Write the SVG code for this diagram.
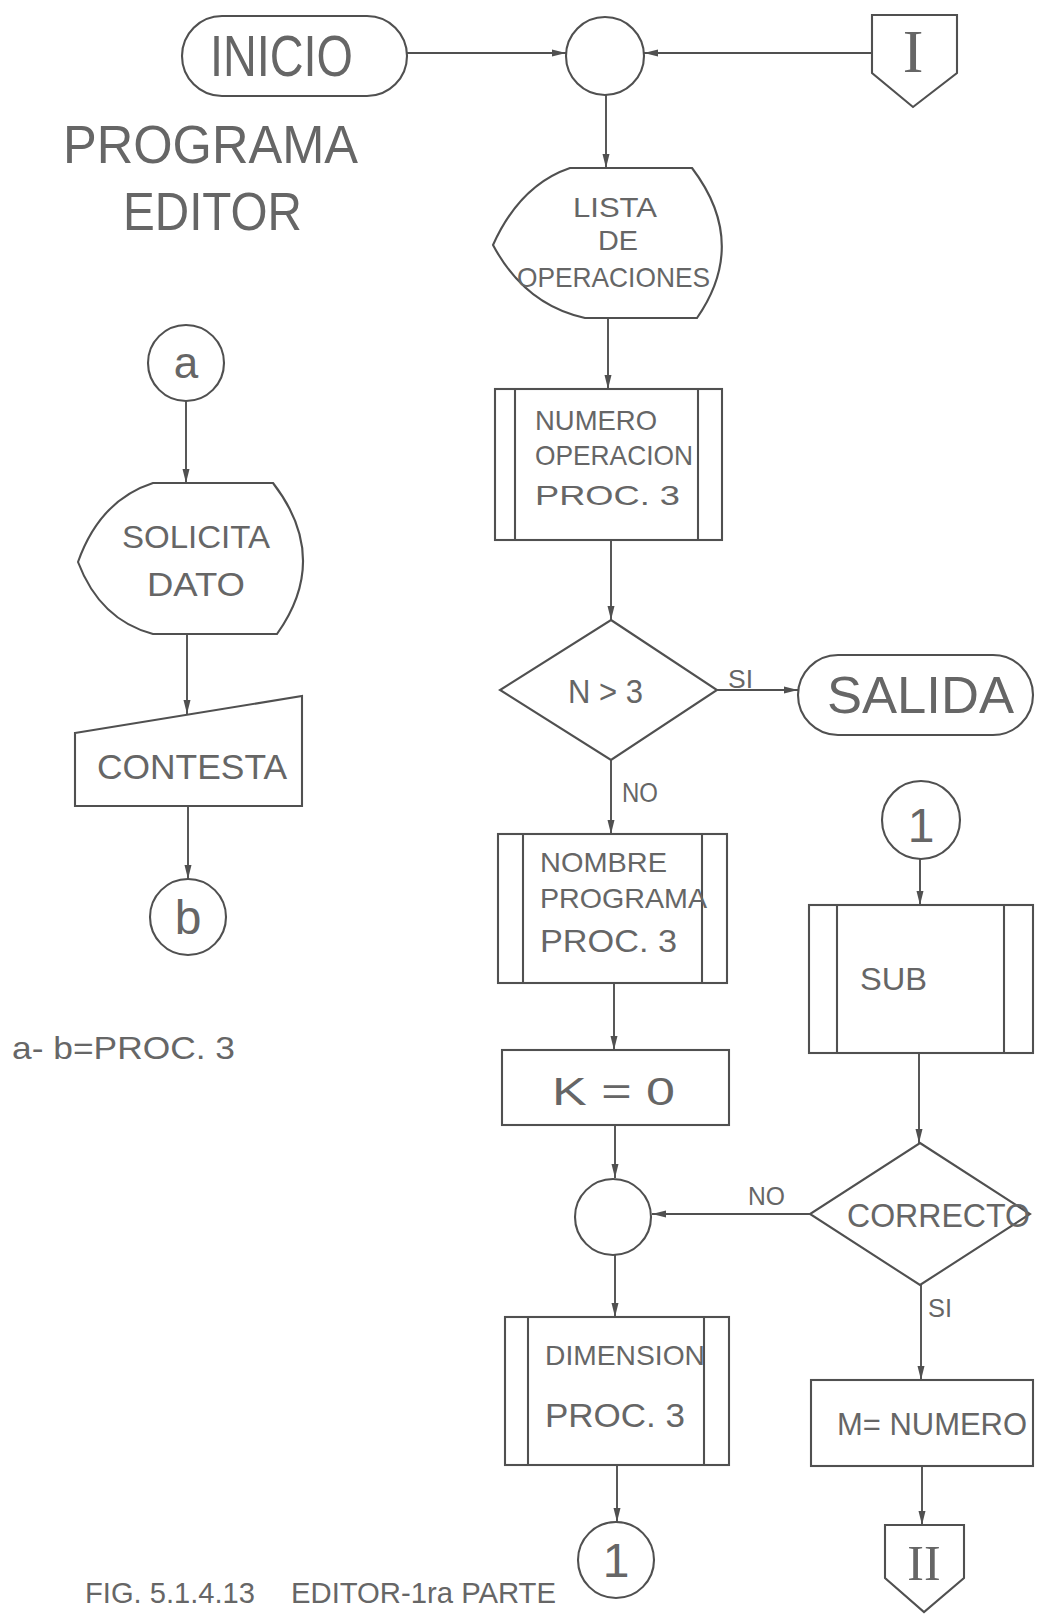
<svg xmlns="http://www.w3.org/2000/svg" width="1037" height="1614" viewBox="0 0 1037 1614">
<style>
.s{fill:#fff;stroke:#505050;stroke-width:2.1}
.l{fill:none;stroke:#505050;stroke-width:2.1}
.c{fill:none;stroke:#505050;stroke-width:1.9}
text{font-family:"Liberation Sans","DejaVu Sans",sans-serif;fill:#666}
.sf{font-family:"Liberation Serif","DejaVu Serif",serif}
.m{text-anchor:middle}
</style>
<defs>
<marker id="ah" markerUnits="userSpaceOnUse" markerWidth="14" markerHeight="8" refX="14" refY="4" orient="auto">
<path d="M0,0.5 L14,4 L0,7.5 z" fill="#505050"/>
</marker>
</defs>
<rect width="1037" height="1614" fill="#fff"/>

<g id="connectors">
<line class="c" x1="407" y1="53" x2="566" y2="53" marker-end="url(#ah)"/>
<line class="c" x1="872" y1="53" x2="644" y2="53" marker-end="url(#ah)"/>
<line class="c" x1="606" y1="95" x2="606" y2="168" marker-end="url(#ah)"/>
<line class="c" x1="608" y1="318" x2="608" y2="389" marker-end="url(#ah)"/>
<line class="c" x1="611" y1="540" x2="611" y2="620" marker-end="url(#ah)"/>
<line class="c" x1="717" y1="690" x2="798" y2="690" marker-end="url(#ah)"/>
<line class="c" x1="611" y1="760" x2="611" y2="834" marker-end="url(#ah)"/>
<line class="c" x1="614" y1="983" x2="614" y2="1050" marker-end="url(#ah)"/>
<line class="c" x1="615" y1="1125" x2="615" y2="1178" marker-end="url(#ah)"/>
<line class="c" x1="810" y1="1214" x2="652" y2="1214" marker-end="url(#ah)"/>
<line class="c" x1="615" y1="1255" x2="615" y2="1317" marker-end="url(#ah)"/>
<line class="c" x1="617" y1="1465" x2="617" y2="1522" marker-end="url(#ah)"/>
<line class="c" x1="920" y1="859" x2="920" y2="905" marker-end="url(#ah)"/>
<line class="c" x1="919" y1="1053" x2="919" y2="1143" marker-end="url(#ah)"/>
<line class="c" x1="921" y1="1285" x2="921" y2="1380" marker-end="url(#ah)"/>
<line class="c" x1="922" y1="1466" x2="922" y2="1525" marker-end="url(#ah)"/>
<line class="c" x1="186" y1="401" x2="186" y2="483" marker-end="url(#ah)"/>
<line class="c" x1="187" y1="634" x2="187" y2="714" marker-end="url(#ah)"/>
<line class="c" x1="188" y1="806" x2="188" y2="879" marker-end="url(#ah)"/>
<text x="728" y="688" font-size="25" textLength="25" lengthAdjust="spacingAndGlyphs">SI</text>
<text x="622" y="802" font-size="27" textLength="36" lengthAdjust="spacingAndGlyphs">NO</text>
<text x="748" y="1205" font-size="25" textLength="37" lengthAdjust="spacingAndGlyphs">NO</text>
<text x="928" y="1317" font-size="26" textLength="24" lengthAdjust="spacingAndGlyphs">SI</text>
</g>

<g id="title">
<text x="63" y="163" font-size="53" textLength="295" lengthAdjust="spacingAndGlyphs">PROGRAMA</text>
<text x="123" y="230" font-size="53" textLength="179" lengthAdjust="spacingAndGlyphs">EDITOR</text>
</g>

<g id="inicio">
<rect class="s" x="182" y="16" width="225" height="80" rx="40"/>
<text x="210" y="76" font-size="57" textLength="143" lengthAdjust="spacingAndGlyphs">INICIO</text>
</g>

<g id="junction-top">
<circle class="s" cx="605" cy="56" r="39"/>
</g>

<g id="offpage-I">
<path class="s" d="M872,15 H957 V73 L913,107 L872,73 Z"/>
<text class="sf m" x="913" y="72" font-size="62">I</text>
</g>

<g id="lista">
<path class="s" d="M570,168 H692 Q749,243 697,318 H585 Q525,305 493,245 Q520,185 570,168 Z"/>
<text x="573" y="217" font-size="28" textLength="84" lengthAdjust="spacingAndGlyphs">LISTA</text>
<text x="598" y="250" font-size="28" textLength="40" lengthAdjust="spacingAndGlyphs">DE</text>
<text x="517" y="287" font-size="28" textLength="193" lengthAdjust="spacingAndGlyphs">OPERACIONES</text>
</g>

<g id="numero-operacion">
<rect class="s" x="495" y="389" width="227" height="151"/>
<line class="l" x1="515" y1="389" x2="515" y2="540"/>
<line class="l" x1="698" y1="389" x2="698" y2="540"/>
<text x="535" y="430" font-size="28" textLength="122" lengthAdjust="spacingAndGlyphs">NUMERO</text>
<text x="535" y="465" font-size="28" textLength="158" lengthAdjust="spacingAndGlyphs">OPERACION</text>
<text x="535" y="505" font-size="28" textLength="145" lengthAdjust="spacingAndGlyphs">PROC.  3</text>
</g>

<g id="decision-n3">
<path class="s" d="M611,620 L717,690 L611,760 L500,690 Z"/>
<text x="568" y="703" font-size="34" textLength="75" lengthAdjust="spacingAndGlyphs">N &gt; 3</text>
</g>

<g id="salida">
<rect class="s" x="798" y="655" width="235" height="80" rx="40"/>
<text x="827" y="713" font-size="52" textLength="187" lengthAdjust="spacingAndGlyphs">SALIDA</text>
</g>

<g id="nombre-programa">
<rect class="s" x="498" y="834" width="229" height="149"/>
<line class="l" x1="523" y1="834" x2="523" y2="983"/>
<line class="l" x1="702" y1="834" x2="702" y2="983"/>
<text x="540" y="872" font-size="28" textLength="127" lengthAdjust="spacingAndGlyphs">NOMBRE</text>
<text x="540" y="908" font-size="28" textLength="167" lengthAdjust="spacingAndGlyphs">PROGRAMA</text>
<text x="540" y="952" font-size="32" textLength="137" lengthAdjust="spacingAndGlyphs">PROC.  3</text>
</g>

<g id="k0">
<rect class="s" x="502" y="1050" width="227" height="75"/>
<text x="552" y="1105" font-size="38" textLength="123" lengthAdjust="spacingAndGlyphs">K  =  0</text>
</g>

<g id="junction-mid">
<circle class="s" cx="613" cy="1217" r="38"/>
</g>

<g id="dimension">
<rect class="s" x="505" y="1317" width="224" height="148"/>
<line class="l" x1="528" y1="1317" x2="528" y2="1465"/>
<line class="l" x1="704" y1="1317" x2="704" y2="1465"/>
<text x="545" y="1365" font-size="28" textLength="160" lengthAdjust="spacingAndGlyphs">DIMENSION</text>
<text x="545" y="1427" font-size="33" textLength="140" lengthAdjust="spacingAndGlyphs">PROC.  3</text>
</g>

<g id="connector-1-out">
<circle class="s" cx="616" cy="1560" r="38"/>
<text class="m" x="616" y="1577" font-size="48">1</text>
</g>

<g id="connector-1-in">
<circle class="s" cx="921" cy="820" r="39"/>
<text class="m" x="921" y="842" font-size="48">1</text>
</g>

<g id="sub">
<rect class="s" x="809" y="905" width="224" height="148"/>
<line class="l" x1="837" y1="905" x2="837" y2="1053"/>
<line class="l" x1="1004" y1="905" x2="1004" y2="1053"/>
<text x="860" y="990" font-size="32" textLength="67" lengthAdjust="spacingAndGlyphs">SUB</text>
</g>

<g id="correcto">
<path class="s" d="M920,1143 L1030,1214 L920,1285 L810,1214 Z"/>
<text x="847" y="1227" font-size="33" textLength="183" lengthAdjust="spacingAndGlyphs">CORRECTO</text>
</g>

<g id="m-numero">
<rect class="s" x="811" y="1380" width="222" height="86"/>
<text x="837" y="1435" font-size="32" textLength="190" lengthAdjust="spacingAndGlyphs">M= NUMERO</text>
</g>

<g id="offpage-II">
<path class="s" d="M885,1525 H964 V1578 L924,1612 L885,1578 Z"/>
<text class="sf m" x="924" y="1580" font-size="50">II</text>
</g>

<g id="connector-a">
<circle class="s" cx="186" cy="363" r="38"/>
<text class="m" x="186" y="378" font-size="44">a</text>
</g>

<g id="solicita">
<path class="s" d="M153,483 H273 Q331,558 277,634 H153 Q100,620 78,562 Q100,500 153,483 Z"/>
<text x="122" y="548" font-size="32" textLength="148" lengthAdjust="spacingAndGlyphs">SOLICITA</text>
<text x="147" y="596" font-size="33" textLength="98" lengthAdjust="spacingAndGlyphs">DATO</text>
</g>

<g id="contesta">
<path class="s" d="M75,733 L302,696 L302,806 L75,806 Z"/>
<text x="97" y="779" font-size="35" textLength="190" lengthAdjust="spacingAndGlyphs">CONTESTA</text>
</g>

<g id="connector-b">
<circle class="s" cx="188" cy="917" r="38"/>
<text class="m" x="188" y="934" font-size="48">b</text>
</g>

<g id="notes">
<text x="12" y="1059" font-size="32" textLength="223" lengthAdjust="spacingAndGlyphs">a- b=PROC. 3</text>
<text x="85" y="1603" font-size="30" textLength="170" lengthAdjust="spacingAndGlyphs">FIG. 5.1.4.13</text>
<text x="291" y="1603" font-size="30" textLength="265" lengthAdjust="spacingAndGlyphs">EDITOR-1ra PARTE</text>
</g>
</svg>
